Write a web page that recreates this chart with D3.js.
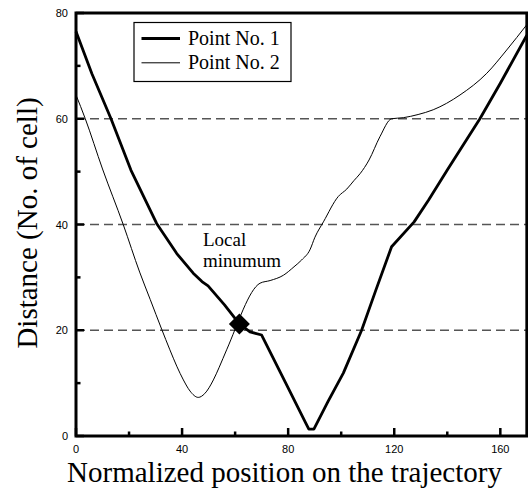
<!DOCTYPE html>
<html>
<head>
<meta charset="utf-8">
<script src="https://cdn.jsdelivr.net/npm/d3@7"></script>
<style>
  html, body { margin: 0; padding: 0; background: #fff; }
  svg { display: block; }
</style>
</head>
<body>
<svg id="chart" width="528" height="490"></svg>
<script>
// ---- data ----
const point1X = [0, 6, 13.2, 20.7, 30.4, 38.0, 44.2, 47.5, 49.8, 56, 61.6, 65.6, 70, 79, 86.5, 87.8, 89.7, 95, 100.8, 107.7, 113, 119, 127.5, 132.9, 140, 152.3, 160, 170];
const point1Y = [76.5, 68.5, 60, 50.3, 40.2, 34.5, 30.8, 29.2, 28.4, 24.8, 21.2, 19.7, 19.1, 10.1, 2.6, 1.3, 1.3, 6.5, 11.9, 20, 27.5, 35.8, 40.5, 44.6, 50.3, 60, 66.7, 75.8];
const point2X = [0, 3.5, 10, 17.8, 24, 28, 32.3, 35.4, 38, 40.5, 43, 46.1, 48.5, 51.8, 54, 56.8, 69.4, 73.2, 78.2, 82.2, 85.1, 88.2, 90.1, 93.3, 98.9, 102.1, 104.8, 107.1, 110.5, 114.6, 119, 123.4, 129, 134.7, 144.8, 154.9, 162.4, 170];
const point2Y = [64.5, 60, 50.5, 40, 31, 25.8, 20.2, 16.3, 13.2, 10.6, 8.5, 7.3, 8.0, 10.6, 13.0, 16.3, 28.9, 29.4, 30.4, 32.0, 33.3, 35.2, 37.6, 40.5, 45.3, 46.7, 48.3, 49.6, 52.2, 56.6, 60, 60.2, 60.8, 61.7, 64.5, 68.6, 73.0, 77.8];
const markerX = [61.6];
const markerY = [21.2];
const xTicks = [0, 40, 80, 120, 160];
const xMinorTicks = [20, 60, 100, 140];
const yTicks = [0, 20, 40, 60, 80];
const yMinorTicks = [10, 30, 50, 70];
const gridLevels = [20, 40, 60];
const seriesNames = ["Point No. 1", "Point No. 2"];
const xTitle = "Normalized position on the trajectory";
const yTitle = "Distance (No. of cell)";
const annotation = ["Local", "minumum"];

// ---- layout ----
const svg = d3.select("#chart");
const L = 76, T = 13, B = 436;
const x = d3.scaleLinear().domain([0, 170]).range([L, L + 170 * 2.652]);
const y = d3.scaleLinear().domain([0, 80]).range([B, T]);
const R = x(170);

// dashed reference lines
svg.append("g").selectAll("line").data(gridLevels).join("line")
  .attr("x1", L).attr("x2", R)
  .attr("y1", d => y(d)).attr("y2", d => y(d))
  .attr("stroke", "#555").attr("stroke-width", 1.3)
  .attr("stroke-dasharray", "9,5");

// series
const zip = (xs, ys) => xs.map((v, i) => [v, ys[i]]);
const lineLin = d3.line().x(d => x(d[0])).y(d => y(d[1]));
const lineSmooth = d3.line().x(d => x(d[0])).y(d => y(d[1])).curve(d3.curveMonotoneX);

svg.append("path").datum(zip(point2X, point2Y))
  .attr("d", lineSmooth).attr("fill", "none")
  .attr("stroke", "#000").attr("stroke-width", 1);
svg.append("path").datum(zip(point1X, point1Y))
  .attr("d", lineLin).attr("fill", "none")
  .attr("stroke", "#000").attr("stroke-width", 2.8)
  .attr("stroke-linejoin", "round");

// marker diamond
svg.append("g").selectAll("path").data(zip(markerX, markerY)).join("path")
  .attr("transform", d => `translate(${x(d[0])},${y(d[1])})`)
  .attr("d", "M0,-10.5L10.5,0L0,10.5L-10.5,0Z")
  .attr("fill", "#000");

// frame
svg.append("rect")
  .attr("x", L).attr("y", T).attr("width", R - L).attr("height", B - T)
  .attr("fill", "none").attr("stroke", "#000").attr("stroke-width", 3);

// ticks (inward)
const tg = svg.append("g").attr("stroke", "#000").attr("stroke-width", 2.5);
tg.selectAll(".xmaj").data(xTicks).join("line")
  .attr("x1", d => x(d)).attr("x2", d => x(d)).attr("y1", B).attr("y2", B - 8);
tg.selectAll(".xmin").data(xMinorTicks).join("line")
  .attr("x1", d => x(d)).attr("x2", d => x(d)).attr("y1", B).attr("y2", B - 4.5);
tg.selectAll(".ymaj").data(yTicks).join("line")
  .attr("y1", d => y(d)).attr("y2", d => y(d)).attr("x1", L).attr("x2", L + 8);
tg.selectAll(".ymin").data(yMinorTicks).join("line")
  .attr("y1", d => y(d)).attr("y2", d => y(d)).attr("x1", L).attr("x2", L + 4.5);

// tick labels
svg.append("g").selectAll("text").data(xTicks).join("text")
  .attr("x", d => x(d)).attr("y", 453)
  .attr("text-anchor", "middle")
  .attr("font-family", "Liberation Sans, Arial, sans-serif").attr("font-size", 11)
  .text(d => d);
svg.append("g").selectAll("text").data(yTicks).join("text")
  .attr("x", 68).attr("y", d => y(d) + 4)
  .attr("text-anchor", "end")
  .attr("font-family", "Liberation Sans, Arial, sans-serif").attr("font-size", 11)
  .text(d => d);

// axis titles
svg.append("text")
  .attr("x", 284.5).attr("y", 482)
  .attr("text-anchor", "middle")
  .attr("font-family", "Liberation Serif, Times New Roman, serif").attr("font-size", 29)
  .text(xTitle);
svg.append("text")
  .attr("transform", "translate(37,223) rotate(-90)")
  .attr("text-anchor", "middle")
  .attr("font-family", "Liberation Serif, Times New Roman, serif").attr("font-size", 29)
  .text(yTitle);

// annotation
svg.append("g").selectAll("text").data(annotation).join("text")
  .attr("x", 203).attr("y", (d, i) => 245.5 + i * 21)
  .attr("font-family", "Liberation Serif, Times New Roman, serif").attr("font-size", 19)
  .text(d => d);

// legend
const lg = svg.append("g");
lg.append("rect").attr("x", 134).attr("y", 22.5).attr("width", 157).attr("height", 59)
  .attr("fill", "#fff").attr("stroke", "#000").attr("stroke-width", 1.2);
const lw = [2.8, 1];
seriesNames.forEach((name, i) => {
  const yy = 38.5 + i * 24.3;
  lg.append("line").attr("x1", 141.5).attr("x2", 180).attr("y1", yy).attr("y2", yy)
    .attr("stroke", "#000").attr("stroke-width", lw[i]);
  lg.append("text").attr("x", 188).attr("y", yy + 6.5)
    .attr("font-family", "Liberation Serif, Times New Roman, serif").attr("font-size", 20)
    .text(name);
});
</script>
</body>
</html>
